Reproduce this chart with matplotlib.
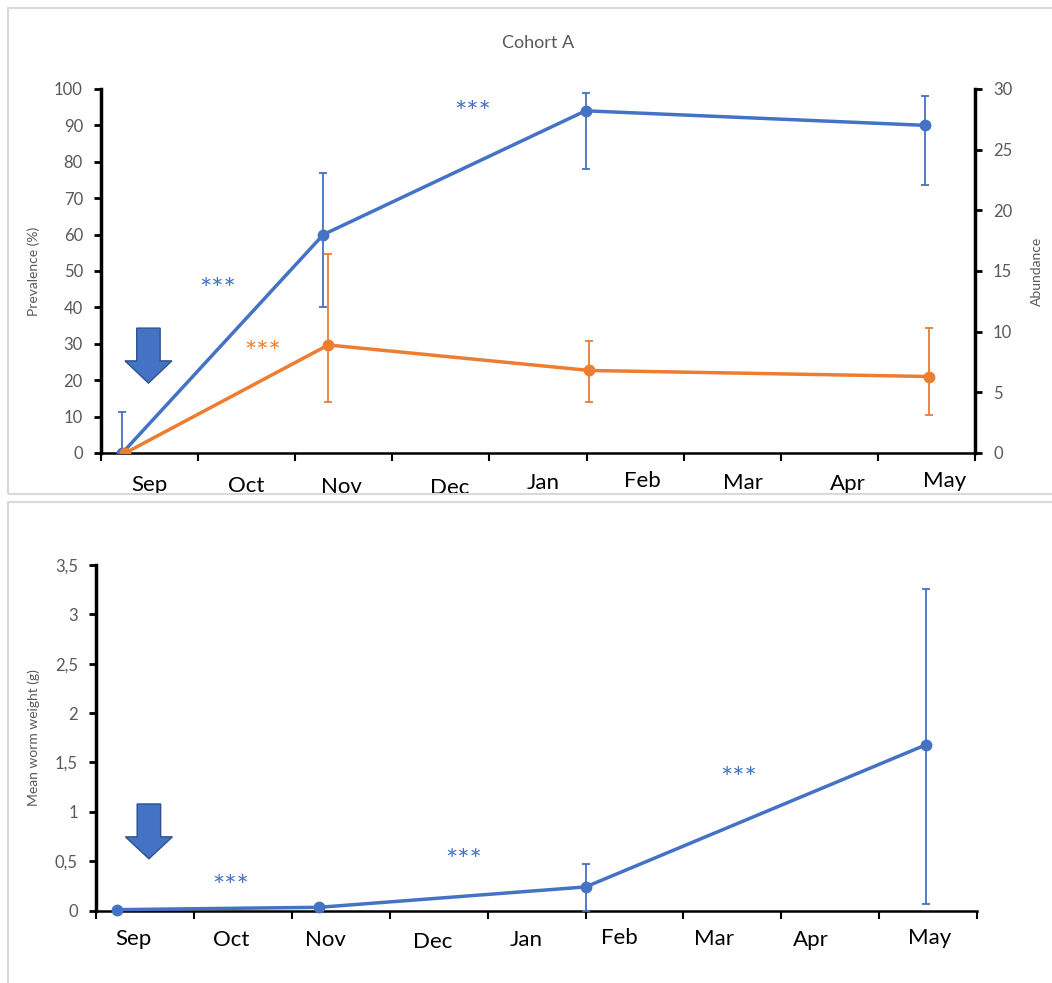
import matplotlib
matplotlib.use("Agg")
import matplotlib.pyplot as plt
from matplotlib.patches import Polygon, Rectangle
from matplotlib.transforms import blended_transform_factory
import numpy as np

plt.rcParams['font.family'] = ['Lato', 'DejaVu Sans']

BLUE = "#4472C4"
ORANGE = "#ED7D31"
GREY = "#595959"

months = ["Sep", "Oct", "Nov", "Dec", "Jan", "Feb", "Mar", "Apr", "May"]

# sampling dates, in month units from the start of the axis
x_blue = [0.22, 2.29, 4.99, 8.49]
x_orange = [0.25, 2.34, 5.03, 8.53]

# cohort A, prevalence (%) with error bar bounds
prevalence = [0, 60, 94, 90]
prev_low = [0, 40, 78, 73.5]
prev_high = [11.3, 77, 99, 98]

# cohort A, abundance with error bar bounds
abundance = [0, 8.9, 6.8, 6.3]
abund_low = [0, 4.2, 4.2, 3.1]
abund_high = [0, 16.4, 9.2, 10.3]

# mean worm weight (g) with error bar bounds
x_weight = [0.215, 2.28, 5.0, 8.48]
weight = [0.01, 0.034, 0.24, 1.68]
weight_low = [0.01, 0.034, 0, 0.07]
weight_high = [0.01, 0.034, 0.47, 3.26]

# where the month labels sit (layout only)
top_label_x = [0.5, 1.5, 2.48, 3.59, 4.55, 5.58, 6.61, 7.69, 8.69]
top_label_y = [-0.088, -0.091, -0.093, -0.096, -0.082, -0.077, -0.082, -0.085, -0.077]
bot_label_x = [0.38, 1.38, 2.34, 3.44, 4.39, 5.35, 6.31, 7.3, 8.51]
bot_label_y = [-0.082, -0.085, -0.085, -0.091, -0.085, -0.079, -0.082, -0.085, -0.079]


def err(vals, low, high):
    vals = np.array(vals)
    return [vals - np.array(low), np.array(high) - vals]


def style_axis(ax):
    ax.set_xlim(0, 9)
    ax.set_xticks(range(10))
    ax.set_xticklabels([])
    ax.tick_params(axis='x', length=6, width=1.5, direction='out')
    ax.tick_params(axis='y', length=5, width=2, labelsize=12, labelcolor=GREY, pad=8)
    ax.spines['top'].set_visible(False)
    ax.spines['right'].set_visible(False)
    ax.spines['left'].set_linewidth(2.5)
    ax.spines['bottom'].set_linewidth(1.8)


def month_labels(ax, xs, ys):
    tr = blended_transform_factory(ax.transData, ax.transAxes)
    for m, x, y in zip(months, xs, ys):
        ax.text(x, y, m, transform=tr, ha='center', va='center', fontsize=16, color='black')


def stars(ax, x, y, color):
    ax.annotate("***", xy=(x, y), xytext=(0, -5.5), textcoords='offset points',
                color=color, fontsize=21, ha='center', va='center')


def arrow(ax, x0, x1, top, mid, tip):
    w = x1 - x0
    pts = [(x0 + 0.25 * w, top), (x0 + 0.75 * w, top), (x0 + 0.75 * w, mid), (x1, mid),
           ((x0 + x1) / 2, tip), (x0, mid), (x0 + 0.25 * w, mid)]
    ax.add_patch(Polygon(pts, closed=True, facecolor=BLUE, edgecolor="#2F528F", lw=1, zorder=5))


fig = plt.figure(figsize=(10.52, 9.83), dpi=100)

# panel frames
fig.patches.append(Rectangle((8 / 1052, 1 - 494 / 983), 1.1, (494 - 8) / 983, transform=fig.transFigure,
                             fill=False, edgecolor="#D9D9D9", lw=1.5))
fig.patches.append(Rectangle((7.5 / 1052, -0.1), 1.1, 0.1 + 1 - 502 / 983, transform=fig.transFigure,
                             fill=False, edgecolor="#D9D9D9", lw=1.5))

# ---- top panel ----
ax = fig.add_axes([0.0960, 0.5392, 0.8308, 0.3703])
ax2 = ax.twinx()
style_axis(ax)
ax.set_ylim(0, 100)
ax.set_yticks(range(0, 101, 10))
ax.set_ylabel("Prevalence (%)", fontsize=10, color=GREY)
ax.yaxis.set_label_coords(-0.07, 0.5)

ax.errorbar(x_blue, prevalence, yerr=err(prevalence, prev_low, prev_high), color=BLUE, lw=2.5,
            marker='o', ms=7.5, elinewidth=1.3, capsize=3, capthick=1.3, zorder=3)

ax2.set_ylim(0, 30)
ax2.set_yticks(range(0, 31, 5))
ax2.tick_params(axis='y', length=5, width=2, labelsize=12, labelcolor=GREY, pad=8)
for s in ['top', 'left', 'bottom']:
    ax2.spines[s].set_visible(False)
ax2.spines['right'].set_linewidth(2.5)
ax2.set_ylabel("Abundance", fontsize=10, color=GREY)
ax2.yaxis.set_label_coords(1.064, 0.5)
ax2.errorbar(x_orange, abundance, yerr=err(abundance, abund_low, abund_high), color=ORANGE, lw=2.5,
             marker='o', ms=7.5, elinewidth=1.3, capsize=3, capthick=1.3, zorder=3)

stars(ax, 1.2, 46.7, BLUE)
stars(ax, 3.83, 95.3, BLUE)
stars(ax, 1.66, 29.4, ORANGE)
arrow(ax2, 0.247, 0.73, 34.3 * 0.3, 25.3 * 0.3, 19.2 * 0.3)
month_labels(ax, top_label_x, top_label_y)
fig.text(538 / 1052, 1 - 43 / 983, "Cohort A", fontsize=13, color=GREY, ha='center', va='center')

# ---- bottom panel ----
bx = fig.add_axes([0.0913, 0.0736, 0.8375, 0.3517])
style_axis(bx)
bx.set_ylim(0, 3.5)
yt = np.arange(0, 3.51, 0.5)
bx.set_yticks(yt)
bx.set_yticklabels([f"{v:g}".replace(".", ",") for v in yt])
bx.set_ylabel("Mean worm weight (g)", fontsize=10, color=GREY)
bx.yaxis.set_label_coords(-0.0636, 0.5)
bx.errorbar(x_weight, weight, yerr=err(weight, weight_low, weight_high), color=BLUE, lw=2.5,
            marker='o', ms=7.5, elinewidth=1.3, capsize=3, capthick=1.3, zorder=3, clip_on=False)

stars(bx, 1.37, 0.31, BLUE)
stars(bx, 3.75, 0.565, BLUE)
stars(bx, 6.56, 1.40, BLUE)
arrow(bx, 0.3, 0.78, 1.08, 0.747, 0.525)
month_labels(bx, bot_label_x, bot_label_y)

fig.savefig("out.png", dpi=100)
